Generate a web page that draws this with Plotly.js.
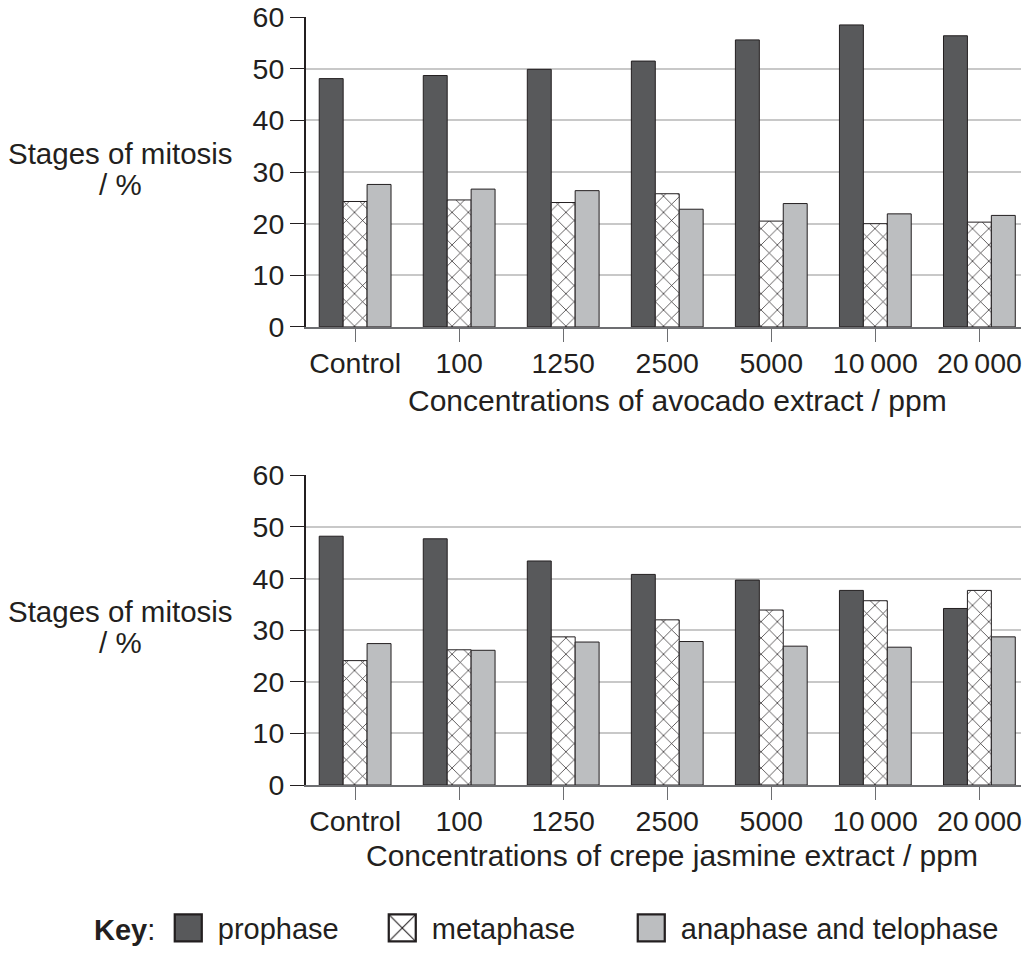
<!DOCTYPE html>
<html>
<head>
<meta charset="utf-8">
<script src="https://cdn.plot.ly/plotly-3.0.1.min.js"></script>
<style>
  html, body { margin: 0; padding: 0; background: #ffffff; }
  #chart { width: 1025px; height: 954px; }
  .legend .legendpoints path { transform: translate(10.5px, 0) scale(2.25); }
</style>
</head>
<body>
<div id="chart"></div>
<script>
// ---- Data ----
var categories = ['Control', '100', '1250', '2500', '5000', '10\u2009000', '20\u2009000'];
var seriesNames = ['prophase', 'metaphase', 'anaphase and telophase'];

// Avocado extract (top panel), % of cells in each stage
var avocadoProphase  = [48.1, 48.7, 49.9, 51.5, 55.6, 58.5, 56.4];
var avocadoMetaphase = [24.3, 24.6, 24.1, 25.8, 20.5, 20.0, 20.3];
var avocadoAnaphase  = [27.6, 26.7, 26.4, 22.8, 23.9, 21.9, 21.6];

// Crepe jasmine extract (bottom panel)
var jasmineProphase  = [48.2, 47.7, 43.4, 40.8, 39.7, 37.7, 34.2];
var jasmineMetaphase = [24.1, 26.2, 28.7, 32.0, 33.9, 35.7, 37.7];
var jasmineAnaphase  = [27.4, 26.1, 27.7, 27.8, 26.9, 26.7, 28.7];

var yTickVals = [0, 10, 20, 30, 40, 50, 60];
var topXTitle = 'Concentrations of avocado extract / ppm';
var bottomXTitle = 'Concentrations of crepe jasmine extract / ppm';
var yTitleLine1 = 'Stages of mitosis';
var yTitleLine2 = '/ %';
var keyTitle = '<b>Key</b>:\u2002';

// ---- Styles ----
var INK = '#231f20';
var FONT = 'Liberation Sans, Arial, Helvetica, sans-serif';
var markers = [
  { color: '#58595b', line: { color: INK, width: 1 } },
  { color: '#ffffff', line: { color: INK, width: 1 },
    pattern: { shape: 'x', bgcolor: '#ffffff', fgcolor: INK, size: 11.5, solidity: 0.12 } },
  { color: '#bcbec0', line: { color: INK, width: 1 } }
];
var legendWidths = [169, 204, 0];

var panels = [
  { xa: 'x',  ya: 'y',  data: [avocadoProphase, avocadoMetaphase, avocadoAnaphase], legend: true },
  { xa: 'x2', ya: 'y2', data: [jasmineProphase, jasmineMetaphase, jasmineAnaphase], legend: false }
];

var traces = [];
panels.forEach(function (p) {
  p.data.forEach(function (vals, i) {
    var t = {
      type: 'bar',
      name: seriesNames[i],
      legendgroup: seriesNames[i],
      showlegend: p.legend,
      x: categories,
      y: vals,
      xaxis: p.xa,
      yaxis: p.ya,
      marker: markers[i],
      hoverinfo: 'x+y+name'
    };
    if (legendWidths[i]) t.legendwidth = legendWidths[i];
    traces.push(t);
  });
});

var W = 1025, H = 954;
function px(v) { return v / W; }
function py(v) { return 1 - v / H; }

var xDomain = [px(305.7), px(1021)];
var TICK = 28.5;

function xAxis(anchor) {
  return {
    anchor: anchor,
    domain: xDomain,
    type: 'category',
    range: [-0.475, 6.4],
    showline: true,
    linecolor: '#6d6e71',
    linewidth: 1.5,
    ticks: 'outside',
    ticklen: 13,
    tickwidth: 1.2,
    tickcolor: '#6d6e71',
    ticklabelstandoff: -3,
    tickfont: { family: FONT, size: TICK, color: INK },
    showgrid: false,
    zeroline: false,
    fixedrange: true
  };
}
function yAxis(anchor, dom) {
  return {
    anchor: anchor,
    domain: dom,
    range: [0, 60],
    tickmode: 'array',
    tickvals: yTickVals,
    ticktext: yTickVals.map(String),
    showline: true,
    linecolor: INK,
    linewidth: 1.5,
    ticks: 'outside',
    ticklen: 14,
    tickwidth: 1.2,
    tickcolor: INK,
    tickfont: { family: FONT, size: TICK, color: INK },
    showgrid: true,
    gridcolor: '#c8c8c8',
    gridwidth: 1.5,
    zeroline: false,
    fixedrange: true
  };
}

function textAnn(text, xc, yc, size) {
  return {
    xref: 'paper', yref: 'paper',
    x: px(xc), y: py(yc),
    xanchor: 'center', yanchor: 'middle',
    showarrow: false,
    text: text,
    font: { family: FONT, size: size, color: INK }
  };
}

var layout = {
  width: W,
  height: H,
  margin: { l: 0, r: 0, t: 0, b: 0, pad: 0 },
  paper_bgcolor: '#ffffff',
  plot_bgcolor: 'rgba(0,0,0,0)',
  font: { family: FONT, color: INK },
  barmode: 'group',
  bargap: 0.31,
  bargroupgap: 0,
  xaxis: xAxis('y'),
  yaxis: yAxis('x', [py(329), py(17.3)]),
  xaxis2: xAxis('y2'),
  yaxis2: yAxis('x2', [py(790), py(478.3)]),
  showlegend: true,
  legend: {
    orientation: 'h',
    x: px(92), y: py(934),
    xanchor: 'left', yanchor: 'middle',
    traceorder: 'normal',
    itemwidth: 30,
    font: { family: FONT, size: 29, color: INK },
    title: { text: keyTitle, side: 'left', font: { family: FONT, size: 29, color: INK } },
    bgcolor: 'rgba(0,0,0,0)',
    borderwidth: 0,
    itemclick: false,
    itemdoubleclick: false
  },
  annotations: [
    textAnn(yTitleLine1, 120, 154, 29.5),
    textAnn(yTitleLine2, 120, 186, 29.5),
    textAnn(yTitleLine1, 120, 615, 29.5),
    textAnn(yTitleLine2, 120, 647, 29.5),
    textAnn(topXTitle, 677, 403, 30),
    textAnn(bottomXTitle, 672, 861, 30)
  ]
};

Plotly.newPlot('chart', traces, layout, { displayModeBar: false, responsive: false });
</script>
</body>
</html>
